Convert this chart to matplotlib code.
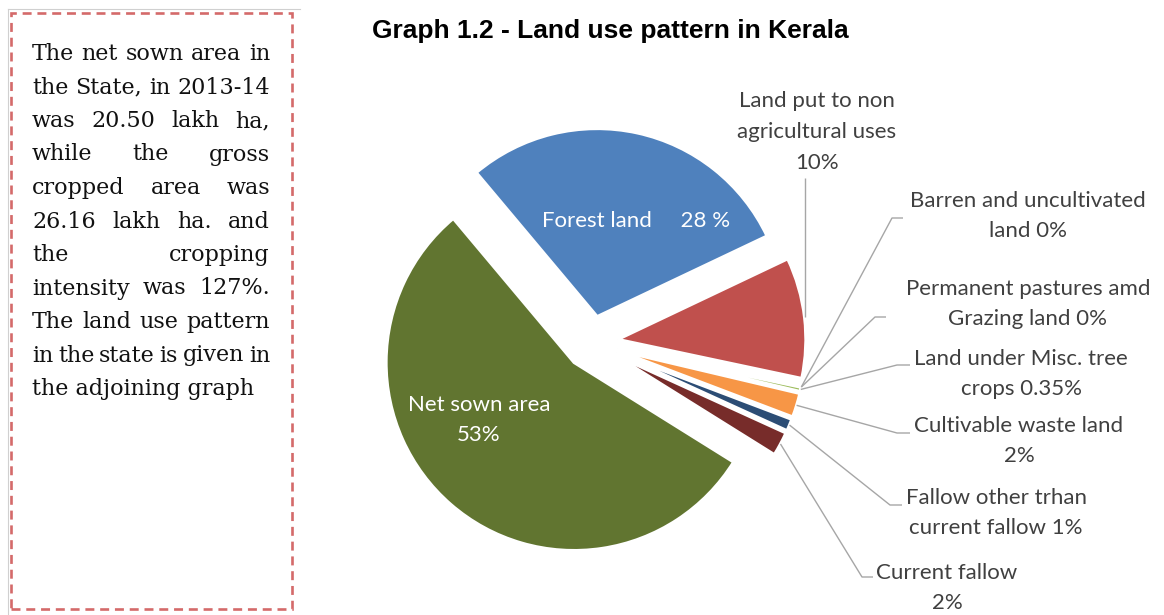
import numpy as np
import matplotlib.pyplot as plt
from matplotlib.patches import Rectangle
from matplotlib.lines import Line2D

# Land use pattern in Kerala, share of geographical area (%)
categories = ['Forest land', 'Land put to non agricultural uses',
              'Barren and uncultivated land', 'Permanent pastures amd Grazing land',
              'Land under Misc. tree crops', 'Cultivable waste land',
              'Fallow other trhan current fallow', 'Current fallow', 'Net sown area']
shares = [28, 10, 0, 0, 0.35, 2, 1, 2, 53]
label_texts = ['Forest land     28 %',
               'Land put to non\nagricultural uses\n10%',
               'Barren and uncultivated\nland 0%',
               'Permanent pastures amd\nGrazing land 0%',
               'Land under Misc. tree\ncrops 0.35%',
               'Cultivable waste land\n2%',
               'Fallow other trhan\ncurrent fallow 1%',
               'Current fallow\n2%',
               'Net sown area\n53%']
colors = ['#4f81bd', '#c0504d', '#8064a2', '#4bacc6', '#9bbb59',
          '#f79646', '#2c4d75', '#772c2a', '#617530']

note_lines = ['The net sown area in',
              'the State, in 2013-14',
              'was 20.50 lakh ha,',
              'while the gross',
              'cropped area was',
              '26.16 lakh ha. and',
              'the cropping',
              'intensity was 127%.',
              'The land use pattern',
              'in the state is given in',
              'the adjoining graph']

W, H = 1164, 615
CX, CY, R = 591.5, 342.5, 188.0   # pie centre and radius in pixels


def px(x, y):
    """pixel position -> data coords of the full-figure pie axes"""
    return (x - CX) / R, (CY - y) / R


fig = plt.figure(figsize=(W / 100, H / 100), dpi=100)
ax = fig.add_axes([0, 0, 1, 1])

wedges, _ = ax.pie(shares, colors=colors, startangle=130, counterclock=False,
                   explode=[0.141] * len(shares), radius=1.0,
                   wedgeprops=dict(edgecolor='white', linewidth=2.2))
ax.set_xlim(-CX / R, (W - CX) / R)
ax.set_ylim((CY - H) / R, CY / R)
ax.set_aspect('equal')
ax.axis('off')


def arc_mid(w):
    a = np.deg2rad((w.theta1 + w.theta2) / 2)
    return w.center[0] + w.r * np.cos(a), w.center[1] + w.r * np.sin(a)


lab_font = dict(family='Lato', fontsize=16, color='#404040',
                linespacing=1.68, ha='center', va='center', multialignment='center')
leader = dict(color='#a6a6a6', lw=1.0, solid_capstyle='butt')

# labels inside the two big slices
ax.text(*px(636, 221), label_texts[0], color='white', family='Lato', fontsize=16,
        ha='center', va='center')
ax.text(*px(479, 420), label_texts[8], color='white', family='Lato', fontsize=16,
        linespacing=1.68, ha='center', va='center', multialignment='center')

# non agricultural uses: straight line up from the arc
x0, y0 = arc_mid(wedges[1])
ax.plot([x0, x0], [y0, px(805, 178)[1]], **leader)
ax.text(*px(817, 132), label_texts[1], **lab_font)

# the thin slices on the right, label -> (text centre, elbow, line end)
callouts = {2: ((1028, 216), (892, 218), (903, 218)),
            3: ((1028, 304), (875, 317), (886, 317)),
            4: ((1021, 374), (897, 365), (910, 365)),
            5: ((1019, 441), (897, 433), (910, 433)),
            6: ((996, 513), (890, 505), (902, 505)),
            7: ((947, 588), (862, 577), (873, 577))}
for i, (tpos, elbow, end) in callouts.items():
    ax0, ay0 = arc_mid(wedges[i])
    ex, ey = px(*elbow)
    fx, fy = px(*end)
    ax.plot([ax0, ex, fx], [ay0, ey, fy], **leader)
    ax.text(*px(*tpos), label_texts[i], **lab_font)

fig.text(610 / W, 1 - 31 / H, 'Graph 1.2 - Land use pattern in Kerala',
         family='Liberation Sans', fontweight='bold', fontsize=19,
         ha='center', va='center', color='black')

# text box on the left
fig.add_artist(Line2D([8 / W, 8 / W], [0, 1 - 9 / H], transform=fig.transFigure,
                      color='#d0d0d0', lw=0.8))
fig.add_artist(Line2D([8 / W, 300 / W], [1 - 9 / H, 1 - 9 / H], transform=fig.transFigure,
                      color='#d0d0d0', lw=0.8))
fig.add_artist(Rectangle((11 / W, 1 - 609 / H), 281 / W, 596 / H, transform=fig.transFigure,
                         fill=False, edgecolor='#d46a6a', lw=1.9,
                         linestyle=(0, (3.4, 2.2))))

note_font = dict(family='DejaVu Serif', fontsize=16, color='#111111')
renderer = fig.canvas.get_renderer()


def word_width(s):
    t = fig.text(0, 0, s, **note_font)
    w = t.get_window_extent(renderer).width
    t.remove()
    return w


left, right = 32, 270
for k, line in enumerate(note_lines):
    base = 60 + 33.5 * k
    words = line.split()
    if k == len(note_lines) - 1:
        fig.text(left / W, 1 - base / H, line, va='baseline', **note_font)
        continue
    widths = [word_width(w) for w in words]
    gap = (right - left - sum(widths)) / (len(words) - 1)
    x = left
    for w, ww in zip(words, widths):
        fig.text(x / W, 1 - base / H, w, va='baseline', **note_font)
        x += ww + gap

fig.savefig('out.png', dpi=100)
